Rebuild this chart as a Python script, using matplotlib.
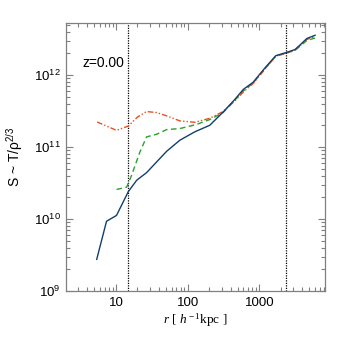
import matplotlib
matplotlib.use("Agg")
import matplotlib.pyplot as plt
from matplotlib.ticker import LogLocator, FixedLocator, FixedFormatter, NullFormatter

plt.rcParams['font.family'] = ['Liberation Sans', 'DejaVu Sans']
plt.rcParams['mathtext.fontset'] = 'custom'
plt.rcParams['mathtext.rm'] = 'Liberation Serif'
plt.rcParams['mathtext.it'] = 'Liberation Serif:italic'

# data
blue_r = [5.4, 7.4, 10.2, 14.9, 19.5, 26.8, 51, 78, 126, 204, 313, 450, 600, 820,
          1200, 1700, 2400, 3150, 3700, 4600, 6000]
blue_S = [2.75e9, 9.3e9, 1.12e10, 2.4e10, 3.45e10, 4.4e10, 8.7e10, 1.24e11, 1.62e11,
          2.0e11, 3.05e11, 4.5e11, 6.3e11, 7.9e11, 1.25e12, 1.85e12, 2.05e12, 2.25e12,
          2.6e12, 3.2e12, 3.55e12]
green_r = [10.2, 14.1, 16.5, 21.6, 26.8, 37, 51, 78, 133, 204, 313, 450, 600, 820,
           1200, 1700, 2400, 3150, 3700, 4600, 6000]
green_S = [2.57e10, 2.76e10, 4.0e10, 8.5e10, 1.38e11, 1.5e11, 1.74e11, 1.8e11, 2.05e11,
           2.4e11, 3.0e11, 4.4e11, 6.0e11, 7.7e11, 1.22e12, 1.82e12, 2.0e12, 2.2e12,
           2.5e12, 3.0e12, 3.25e12]
orange_r = [5.48, 7.4, 10.2, 14.9, 20, 26.8, 37, 51, 78, 126, 204, 313, 450, 600, 820,
            1200, 1700, 2400, 3150, 3700, 4600, 6000]
orange_S = [2.22e11, 1.95e11, 1.7e11, 1.95e11, 2.6e11, 3.1e11, 3.0e11, 2.7e11, 2.3e11,
            2.2e11, 2.5e11, 3.1e11, 4.3e11, 5.8e11, 7.6e11, 1.2e12, 1.82e12, 2.02e12,
            2.2e12, 2.55e12, 3.1e12, 3.4e12]
vlines_r = [14.6, 2355]
x_ticks = [10, 100, 1000]
x_ticklabels = ['10', '100', '1000']
y_ticks = [1e9, 1e10, 1e11, 1e12]
y_ticklabels = [r'$\mathregular{10^{9}}$', r'$\mathregular{10^{10}}$',
                r'$\mathregular{10^{11}}$', r'$\mathregular{10^{12}}$']

fig = plt.figure(figsize=(3.38, 3.38), dpi=100)
ax = fig.add_axes([0.196, 0.139, 0.7655, 0.792])
ax.set_xscale('log')
ax.set_yscale('log')

ax.plot(blue_r, blue_S, color='#123f6e', lw=1.0, zorder=4)
ax.plot(green_r, green_S, color='#2ca02c', lw=1.0, ls=(0, (4, 2.5)), zorder=3)
ax.plot(orange_r, orange_S, color='#e8501e', lw=1.0, ls=(0, (4, 1.5, 1, 1.5, 1, 1.5)), zorder=3)
for v in vlines_r:
    ax.axvline(v, color='black', lw=0.9, ls=(0, (1, 1)), zorder=2)

ax.set_xlim(2.03, 8250)
ax.set_ylim(1e9, 5.2e12)

gray = '#808080'
for s in ax.spines.values():
    s.set_color(gray)
    s.set_linewidth(0.9)

ax.xaxis.set_major_locator(FixedLocator(x_ticks))
ax.xaxis.set_major_formatter(FixedFormatter(x_ticklabels))
ax.yaxis.set_major_locator(FixedLocator(y_ticks))
ax.yaxis.set_major_formatter(FixedFormatter(y_ticklabels))
ax.xaxis.set_minor_locator(LogLocator(base=10, subs=range(2, 10), numticks=20))
ax.yaxis.set_minor_locator(LogLocator(base=10, subs=range(2, 10), numticks=20))
ax.xaxis.set_minor_formatter(NullFormatter())
ax.yaxis.set_minor_formatter(NullFormatter())
ax.tick_params(which='both', direction='in', top=True, right=True, color=gray,
               width=0.8, labelsize=9.5, labelcolor='black')
ax.tick_params(which='major', length=5, pad=4)
ax.tick_params(which='minor', length=3)

ax.set_xlabel(r'$\it{r}$ [ $\it{h}^{\rm -1}$kpc ]', fontsize=9.5,
              family='Liberation Serif', labelpad=2)
ax.set_ylabel(r'S ~ T/ρ$\mathregular{^{2/3}}$', fontsize=10, labelpad=6)

ax.text(0.061, 0.852, 'z=0.00', transform=ax.transAxes, fontsize=10,
        ha='left', va='center')

fig.savefig('out.png', dpi=100)
